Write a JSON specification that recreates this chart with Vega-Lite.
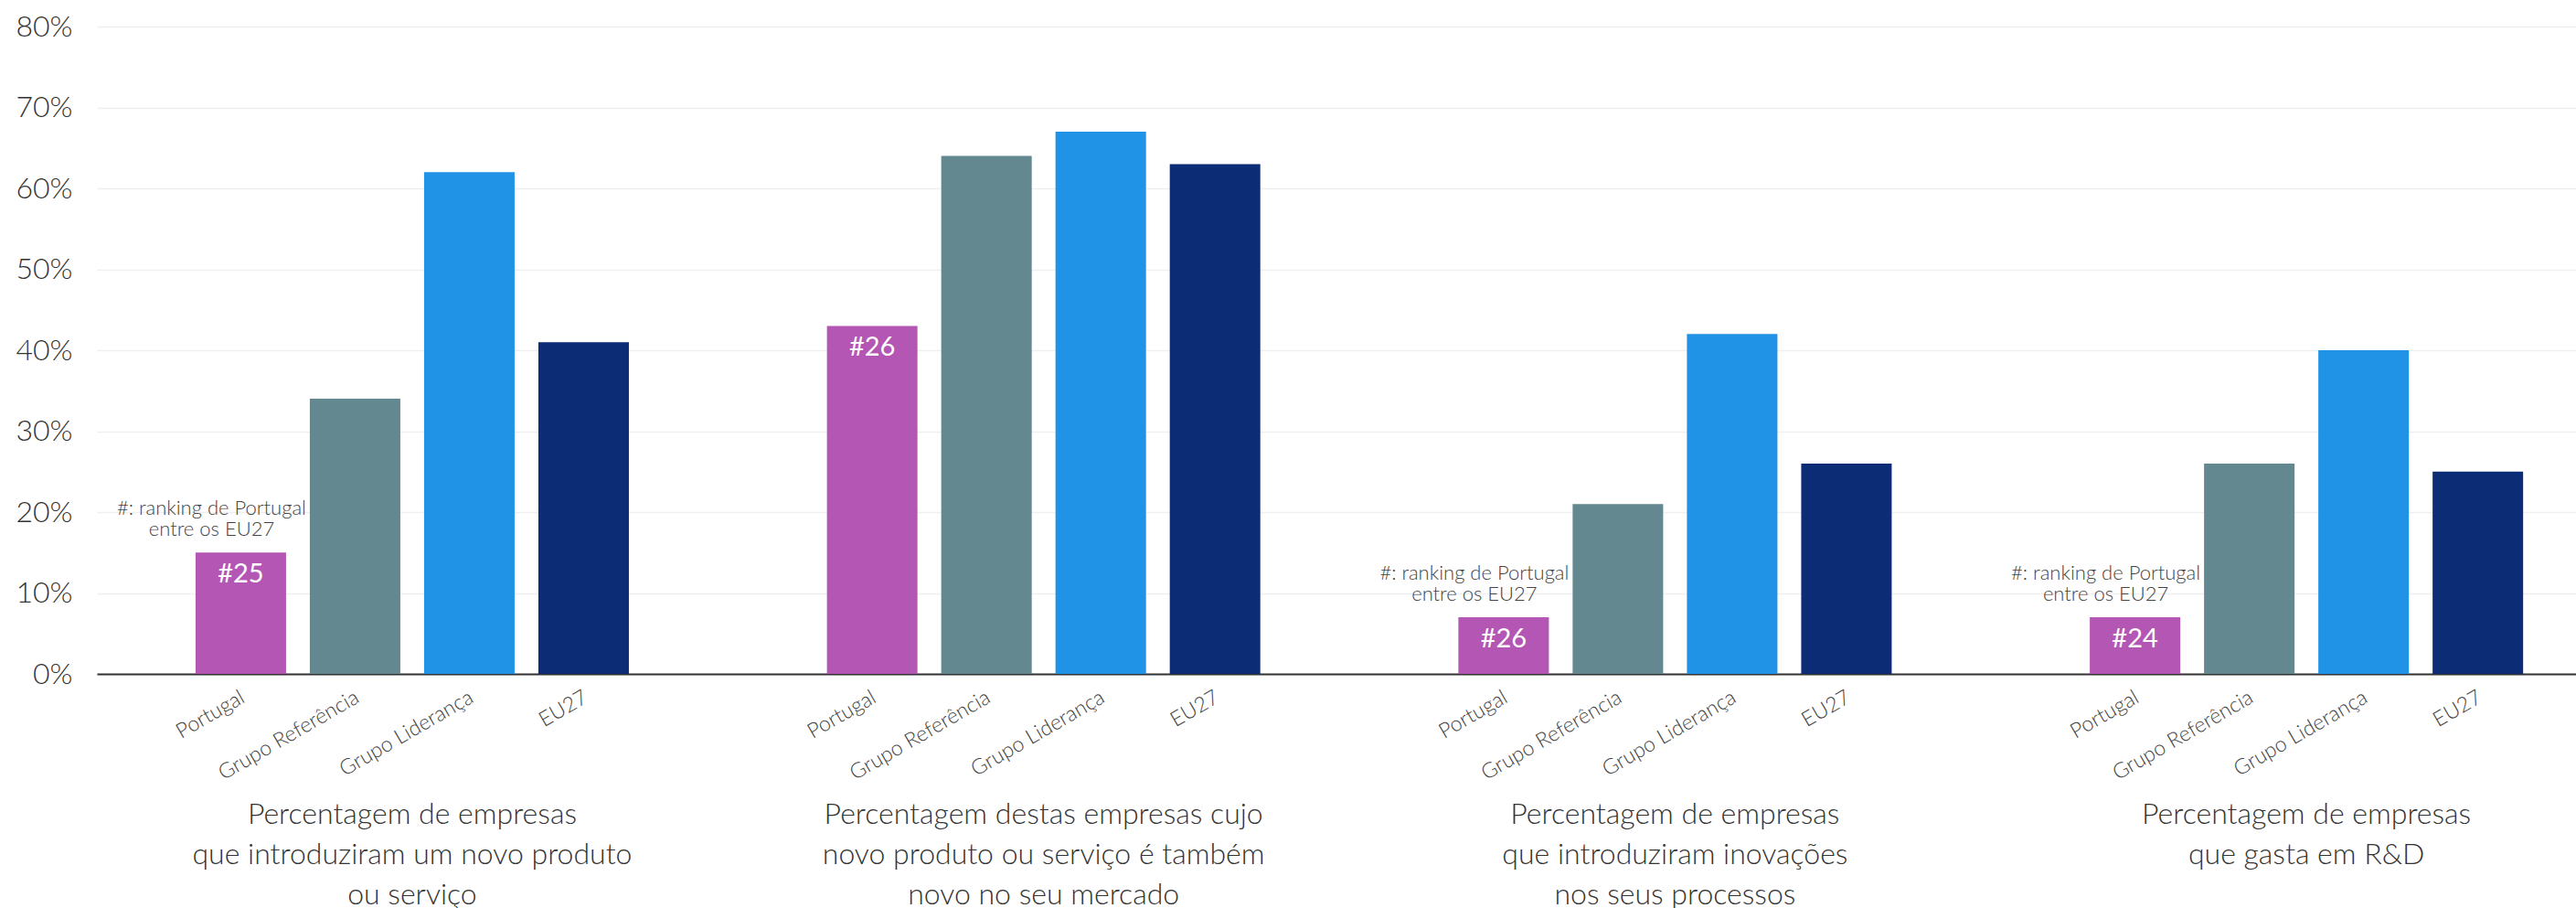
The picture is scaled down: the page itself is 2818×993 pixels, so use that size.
{
  "$schema": "https://vega.github.io/schema/vega-lite/v6.json",
  "width": 2712,
  "height": 708,
  "autosize": {"type": "none"},
  "padding": {"left": 106, "top": 29, "right": 0, "bottom": 256},
  "background": "white",
  "config": {"view": {"stroke": null}, "font": "Lato"},
  "data": {
    "values": [
      {"grupo": "Percentagem de empresas|que introduziram um novo produto|ou serviço", "cat": "Portugal", "valor": 15, "rank": "#25", "nota": "#: ranking de Portugal\nentre os EU27"},
      {"grupo": "Percentagem de empresas|que introduziram um novo produto|ou serviço", "cat": "Grupo Referência", "valor": 34},
      {"grupo": "Percentagem de empresas|que introduziram um novo produto|ou serviço", "cat": "Grupo Liderança", "valor": 62},
      {"grupo": "Percentagem de empresas|que introduziram um novo produto|ou serviço", "cat": "EU27", "valor": 41},
      {"grupo": "Percentagem destas empresas cujo|novo produto ou serviço é também|novo no seu mercado", "cat": "Portugal", "valor": 43, "rank": "#26"},
      {"grupo": "Percentagem destas empresas cujo|novo produto ou serviço é também|novo no seu mercado", "cat": "Grupo Referência", "valor": 64},
      {"grupo": "Percentagem destas empresas cujo|novo produto ou serviço é também|novo no seu mercado", "cat": "Grupo Liderança", "valor": 67},
      {"grupo": "Percentagem destas empresas cujo|novo produto ou serviço é também|novo no seu mercado", "cat": "EU27", "valor": 63},
      {"grupo": "Percentagem de empresas|que introduziram inovações|nos seus processos", "cat": "Portugal", "valor": 7, "rank": "#26", "nota": "#: ranking de Portugal\nentre os EU27"},
      {"grupo": "Percentagem de empresas|que introduziram inovações|nos seus processos", "cat": "Grupo Referência", "valor": 21},
      {"grupo": "Percentagem de empresas|que introduziram inovações|nos seus processos", "cat": "Grupo Liderança", "valor": 42},
      {"grupo": "Percentagem de empresas|que introduziram inovações|nos seus processos", "cat": "EU27", "valor": 26},
      {"grupo": "Percentagem de empresas|que gasta em R&D", "cat": "Portugal", "valor": 7, "rank": "#24", "nota": "#: ranking de Portugal\nentre os EU27"},
      {"grupo": "Percentagem de empresas|que gasta em R&D", "cat": "Grupo Referência", "valor": 26},
      {"grupo": "Percentagem de empresas|que gasta em R&D", "cat": "Grupo Liderança", "valor": 40},
      {"grupo": "Percentagem de empresas|que gasta em R&D", "cat": "EU27", "valor": 25}
    ]
  },
  "encoding": {
    "x": {
      "field": "grupo",
      "type": "nominal",
      "sort": null,
      "scale": {
        "domain": [
          "Percentagem de empresas|que introduziram um novo produto|ou serviço",
          "Percentagem destas empresas cujo|novo produto ou serviço é também|novo no seu mercado",
          "Percentagem de empresas|que introduziram inovações|nos seus processos",
          "Percentagem de empresas|que gasta em R&D"
        ],
        "paddingInner": 0.3137,
        "paddingOuter": 0.12,
        "align": 0.651,
        "round": false
      },
      "axis": {
        "title": null,
        "ticks": false,
        "domainColor": "#333333",
        "domainWidth": 2,
        "labelAngle": 0,
        "labelAlign": "center",
        "labelBaseline": "top",
        "labelPadding": 138,
        "labelFontSize": 32,
        "labelFontWeight": 300,
        "labelLineHeight": 44,
        "labelLimit": 0,
        "labelOverlap": false,
        "labelColor": "#333333",
        "labelExpr": "split(datum.label, '|')"
      }
    },
    "xOffset": {
      "field": "cat",
      "type": "nominal",
      "sort": null,
      "scale": {
        "domain": ["Portugal", "Grupo Referência", "Grupo Liderança", "EU27"],
        "paddingInner": 0.208,
        "paddingOuter": 0,
        "round": false
      }
    }
  },
  "layer": [
    {
      "mark": {"type": "bar"},
      "encoding": {
        "y": {
          "field": "valor",
          "type": "quantitative",
          "scale": {"domain": [0, 80], "nice": false},
          "axis": {
            "title": null,
            "values": [0, 10, 20, 30, 40, 50, 60, 70, 80],
            "domain": false,
            "ticks": false,
            "grid": true,
            "gridColor": "#efefef",
            "gridWidth": 1.5,
            "labelFontSize": 32,
            "labelFontWeight": 300,
            "labelColor": "#333333",
            "labelPadding": 27,
            "labelExpr": "datum.value + '%'"
          }
        },
        "color": {
          "field": "cat",
          "type": "nominal",
          "legend": null,
          "scale": {
            "domain": ["Portugal", "Grupo Referência", "Grupo Liderança", "EU27"],
            "range": ["#b456b4", "#63888f", "#2193e7", "#0c2c75"]
          }
        }
      }
    },
    {
      "transform": [{"filter": "datum.rank != null"}],
      "mark": {"type": "text", "color": "white", "fontSize": 29, "fontWeight": 400, "baseline": "top", "align": "center", "dy": 10},
      "encoding": {
        "y": {"field": "valor", "type": "quantitative"},
        "text": {"field": "rank"}
      }
    },
    {
      "transform": [{"filter": "datum.nota != null"}],
      "mark": {"type": "text", "color": "#444444", "fontSize": 22, "fontWeight": 300, "baseline": "bottom", "align": "center", "dx": -32, "dy": -36, "lineHeight": 23, "lineBreak": "\n"},
      "encoding": {
        "y": {"field": "valor", "type": "quantitative"},
        "text": {"field": "nota"}
      }
    },
    {
      "mark": {"type": "text", "color": "#444444", "fontSize": 23, "fontWeight": 300, "angle": 330, "align": "right", "baseline": "alphabetic", "dx": -10, "dy": 29},
      "encoding": {
        "y": {"datum": 0, "type": "quantitative"},
        "text": {"field": "cat"}
      }
    }
  ]
}
